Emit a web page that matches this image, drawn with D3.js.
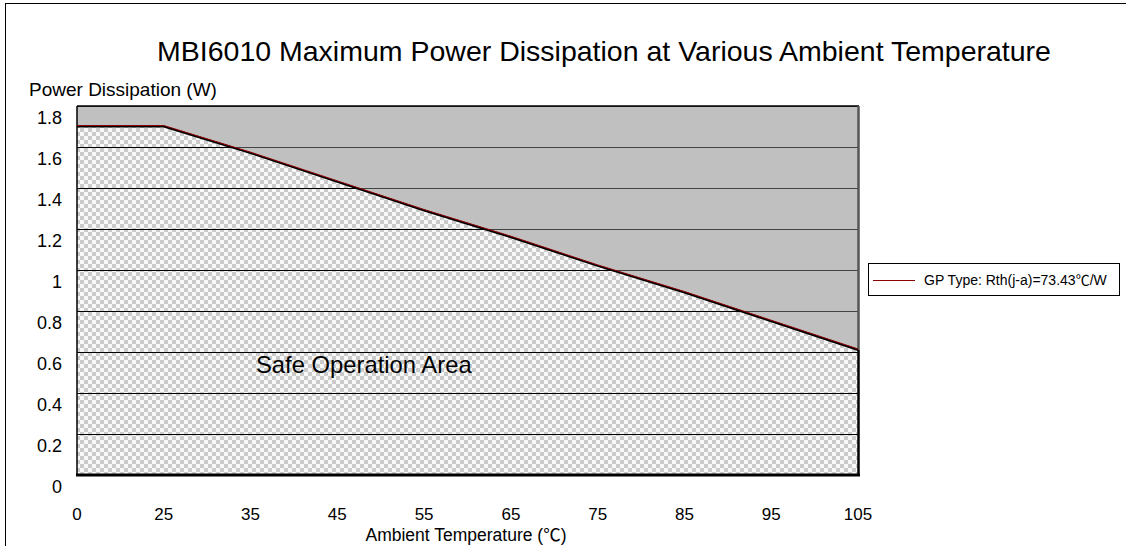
<!DOCTYPE html>
<html>
<head>
<meta charset="utf-8">
<script src="https://cdn.jsdelivr.net/npm/d3@7/dist/d3.min.js"></script>
<style>
  html, body { margin: 0; padding: 0; background: #fff; }
  svg { display: block; font-family: "Liberation Sans", Arial, sans-serif; }
  .cjk { font-family: "Noto Sans CJK SC", "Liberation Sans", sans-serif; }
</style>
</head>
<body>
<svg id="chart" width="1126" height="546"></svg>
<script>
// ---- data ----
const categories = ["0", "25", "35", "45", "55", "65", "75", "85", "95", "105"];
const powerValues = [1.70, 1.70, 1.57, 1.43, 1.29, 1.16, 1.02, 0.89, 0.75, 0.61];
const yTickValues = [0, 0.2, 0.4, 0.6, 0.8, 1.0, 1.2, 1.4, 1.6, 1.8];
const yTickLabels = ["0", "0.2", "0.4", "0.6", "0.8", "1", "1.2", "1.4", "1.6", "1.8"];
const titleText = "MBI6010 Maximum Power Dissipation at Various Ambient Temperature";
const yTitle = "Power Dissipation (W)";
const xTitleParts = ["Ambient Temperature (", "℃", ")"];
const seriesNameParts = ["GP Type: Rth(j-a)=73.43", "℃", "/W"];
const areaLabel = "Safe Operation Area";

const svg = d3.select("#chart");
const plot = { left: 77, right: 858, top: 106, bottom: 475 };

const x = d3.scalePoint().domain(categories).range([plot.left, plot.right]).padding(0);
const y = d3.scaleLinear().domain([0, 1.8]).range([plot.bottom, plot.top]);

const data = categories.map((c, i) => ({ c, v: powerValues[i] }));

// outer frame
svg.append("rect").attr("x", 5.5).attr("y", 3.5).attr("width", 1200).attr("height", 600)
  .attr("fill", "none").attr("stroke", "#000").attr("stroke-width", 1);

// pattern
const defs = svg.append("defs");
const pat = defs.append("pattern").attr("id", "checker").attr("patternUnits", "userSpaceOnUse")
  .attr("width", 8).attr("height", 8);
pat.append("rect").attr("width", 8).attr("height", 8).attr("fill", "#f8f8f8");
pat.append("rect").attr("x", 0).attr("y", 0).attr("width", 4).attr("height", 4).attr("fill", "#cacaca");
pat.append("rect").attr("x", 4).attr("y", 4).attr("width", 4).attr("height", 4).attr("fill", "#cacaca");

const areaGen = d3.area().x(d => x(d.c)).y0(y(0)).y1(d => y(d.v));
const lineGen = d3.line().x(d => x(d.c)).y(d => y(d.v));

defs.append("clipPath").attr("id", "safeClip").append("path").attr("d", areaGen(data));

// gray background of plot
svg.append("rect").attr("x", plot.left).attr("y", plot.top)
  .attr("width", plot.right - plot.left).attr("height", plot.bottom - plot.top)
  .attr("fill", "#c0c0c0");

// gridlines in gray region
svg.append("g").selectAll("line").data(yTickValues.slice(1)).join("line")
  .attr("x1", plot.left).attr("x2", plot.right)
  .attr("y1", d => Math.round(y(d)) + 0.5).attr("y2", d => Math.round(y(d)) + 0.5)
  .attr("stroke", "#444").attr("stroke-width", 1.2);

// safe area
svg.append("path").attr("d", areaGen(data)).attr("fill", "url(#checker)");

// gridlines in safe area (black)
svg.append("g").attr("clip-path", "url(#safeClip)").selectAll("line").data(yTickValues.slice(1)).join("line")
  .attr("x1", plot.left).attr("x2", plot.right)
  .attr("y1", d => Math.round(y(d)) + 0.5).attr("y2", d => Math.round(y(d)) + 0.5)
  .attr("stroke", "#000").attr("stroke-width", 1.2);

// borders
svg.append("line").attr("x1", plot.left).attr("x2", plot.right + 1)
  .attr("y1", plot.top).attr("y2", plot.top).attr("stroke", "#000").attr("stroke-width", 1.5);
svg.append("line").attr("x1", plot.right + 0.5).attr("x2", plot.right + 0.5)
  .attr("y1", plot.top).attr("y2", y(powerValues[powerValues.length - 1]))
  .attr("stroke", "#555").attr("stroke-width", 2.5);
svg.append("line").attr("x1", plot.right + 0.5).attr("x2", plot.right + 0.5)
  .attr("y1", y(powerValues[powerValues.length - 1])).attr("y2", plot.bottom)
  .attr("stroke", "#000").attr("stroke-width", 2.5);
svg.append("line").attr("x1", plot.left).attr("x2", plot.left)
  .attr("y1", plot.top).attr("y2", plot.bottom).attr("stroke", "#000").attr("stroke-width", 1.5);
svg.append("line").attr("x1", plot.left - 1).attr("x2", plot.right + 2)
  .attr("y1", plot.bottom).attr("y2", plot.bottom).attr("stroke", "#000").attr("stroke-width", 3);

// boundary line: black edge + red series line
svg.append("path").attr("d", lineGen(data)).attr("fill", "none")
  .attr("stroke", "#000").attr("stroke-width", 2);
svg.append("path").attr("d", lineGen(data)).attr("fill", "none")
  .attr("stroke", "#8b0000").attr("stroke-width", 1).attr("transform", "translate(0,-1)");

// y tick labels (offset below gridlines as in the reference)
svg.append("g").selectAll("text").data(yTickValues).join("text")
  .attr("x", 62).attr("y", d => y(d) + 18)
  .attr("text-anchor", "end").attr("font-size", 18).attr("fill", "#000")
  .text((d, i) => yTickLabels[i]);

// x tick labels
svg.append("g").selectAll("text").data(categories).join("text")
  .attr("x", d => x(d)).attr("y", 520)
  .attr("text-anchor", "middle").attr("font-size", 17).attr("fill", "#000")
  .text(d => d);

// titles
svg.append("text").attr("x", 604).attr("y", 61).attr("text-anchor", "middle")
  .attr("font-size", 28.5).attr("fill", "#000").text(titleText);
svg.append("text").attr("x", 29).attr("y", 96).attr("font-size", 19).attr("fill", "#000").text(yTitle);
const xt = svg.append("text").attr("x", 466).attr("y", 540.5).attr("text-anchor", "middle")
  .attr("font-size", 17.5).attr("fill", "#000");
xTitleParts.forEach((p, i) => xt.append("tspan").attr("class", i === 1 ? "cjk" : null).text(p));

// area label
svg.append("text").attr("x", 256).attr("y", 373).attr("font-size", 23.8).attr("fill", "#000").text(areaLabel);

// legend
svg.append("rect").attr("x", 868.5).attr("y", 263.5).attr("width", 251).attr("height", 32)
  .attr("fill", "#fff").attr("stroke", "#000").attr("stroke-width", 1);
svg.append("line").attr("x1", 873).attr("x2", 915).attr("y1", 280.5).attr("y2", 280.5)
  .attr("stroke", "#8b0000").attr("stroke-width", 1);
const lt = svg.append("text").attr("x", 924).attr("y", 285).attr("font-size", 14).attr("fill", "#000");
seriesNameParts.forEach((p, i) => lt.append("tspan").attr("class", i === 1 ? "cjk" : null).text(p));
</script>
</body>
</html>
